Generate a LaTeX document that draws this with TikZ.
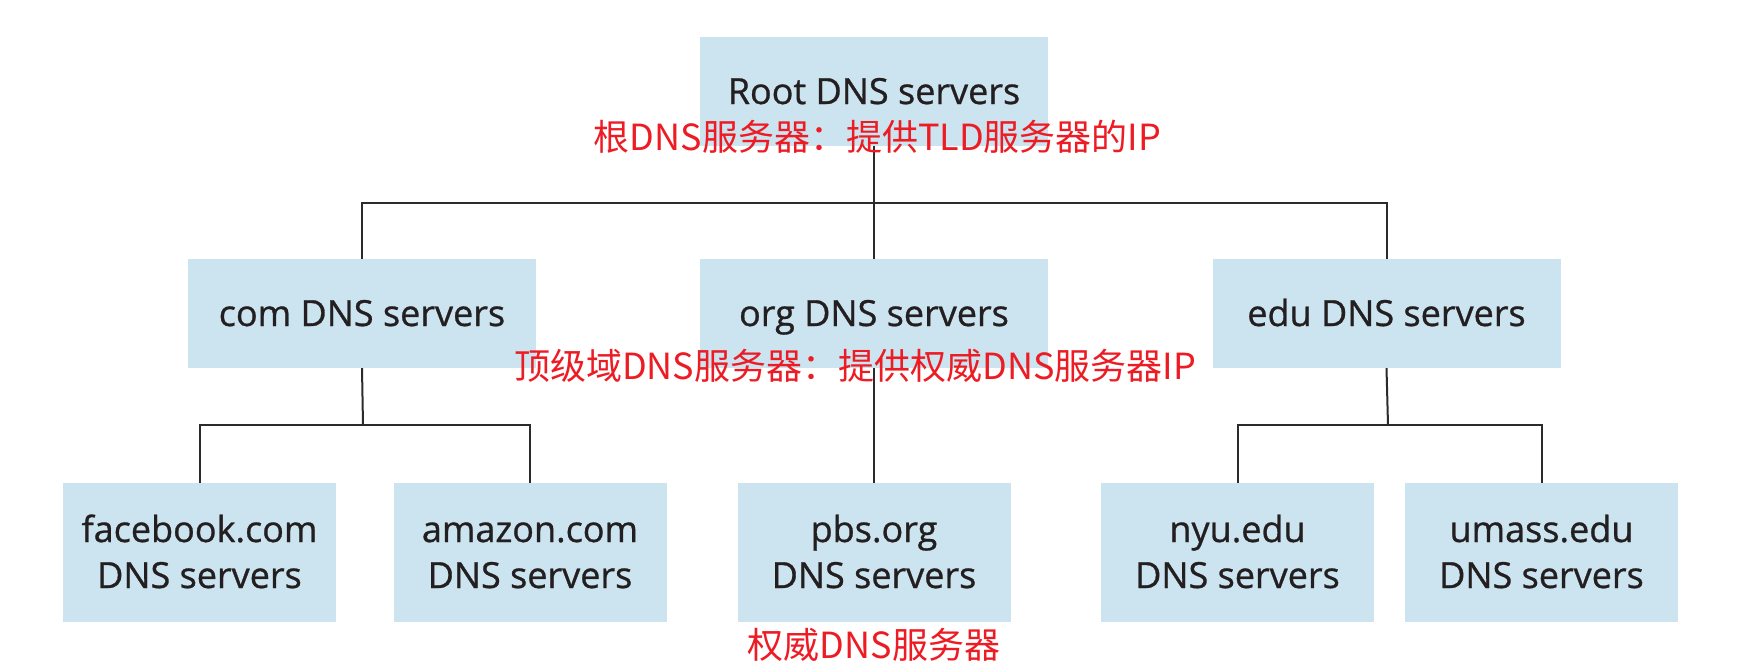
\documentclass[tikz,border=0pt]{standalone}
\usepackage{fontspec}
\usepackage{tikz}
\usepackage{color}
\newfontfamily\boxfont[FakeBold=0.8]{Open Sans}
\newfontfamily\cjk{Noto Sans CJK SC}
\definecolor{boxblue}{RGB}{204,228,239}
\definecolor{linegray}{RGB}{43,43,43}
\definecolor{notered}{RGB}{237,28,36}
\definecolor{textblack}{RGB}{35,31,32}
\newcommand{\dnsstrut}{\rule[-9pt]{0pt}{43pt}}

\begin{document}
\begin{tikzpicture}[x=1pt,y=-1pt]
\useasboundingbox (0,0) rectangle (1741,672);

\begin{scope}[every node/.style={fill=boxblue,inner sep=0pt,align=center,text=textblack,font=\boxfont\fontsize{36}{46}\selectfont}]
\node [minimum width=348, minimum height=109] (root) at (874,91.5) {\dnsstrut Root DNS servers};
\node [minimum width=348, minimum height=109] (com) at (362,313.5) {\dnsstrut com DNS servers};
\node [minimum width=348, minimum height=109] (org) at (874,313.5) {\dnsstrut org DNS servers};
\node [minimum width=348, minimum height=109] (edu) at (1386.5,313.5) {\dnsstrut edu DNS servers};
\node [minimum width=273, minimum height=139] (facebook) at (199.5,552.5) {\dnsstrut facebook.com\\\dnsstrut DNS servers};
\node [minimum width=273, minimum height=139] (amazon) at (530,552.5) {\dnsstrut amazon.com\\\dnsstrut DNS servers};
\node [minimum width=273, minimum height=139] (pbs) at (874,552.5) {\dnsstrut pbs.org\\\dnsstrut DNS servers};
\node [minimum width=273, minimum height=139] (nyu) at (1237.5,552.5) {\dnsstrut nyu.edu\\\dnsstrut DNS servers};
\node [minimum width=273, minimum height=139] (umass) at (1541.5,552.5) {\dnsstrut umass.edu\\\dnsstrut DNS servers};
\end{scope}

\coordinate (topbus) at (874,203);
\coordinate (combus) at (363,425);
\coordinate (edubus) at (1388,425);

\begin{scope}[line width=2pt, draw=linegray]
\draw (root.south) to (org.north);
\draw (com.north) |- (topbus) -| (edu.north);
\draw (org.south) to (pbs.north);
\draw (com.south) to (combus);
\draw (facebook.north) |- (combus) -| (amazon.north);
\draw (edu.south) to (edubus);
\draw (nyu.north) |- (edubus) -| (umass.north);
\end{scope}

\begin{scope}[every node/.style={text=notered,inner sep=0pt,font=\cjk\fontsize{36}{40}\selectfont}]
\node (rootnote) at (877.5,137) {根DNS服务器：提供TLD服务器的IP};
\node (tldnote) at (855,366) {顶级域DNS服务器：提供权威DNS服务器IP};
\node (authnote) at (874,645) {权威DNS服务器};
\end{scope}
\end{tikzpicture}
\end{document}
